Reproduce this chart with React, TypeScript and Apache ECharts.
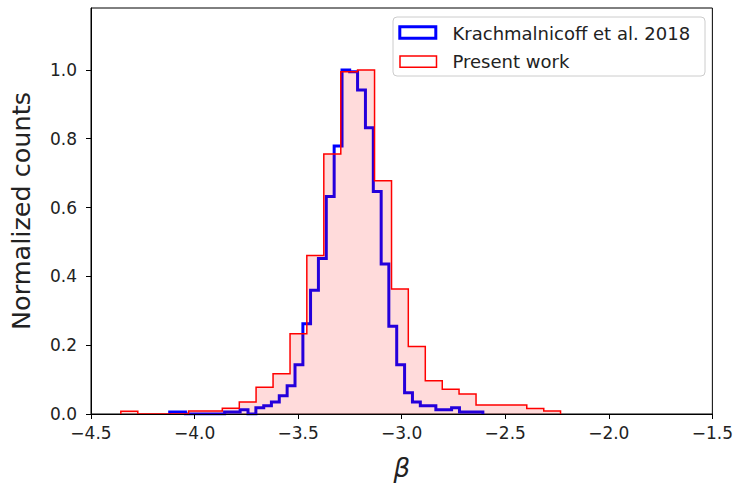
import React, { useEffect, useRef } from "react";
import * as echarts from "echarts";

// Bin edges of the two histograms (beta)
const blueEdges = [
  -4.12, -4.082, -4.044, -4.007, -3.969, -3.931, -3.893, -3.855, -3.818, -3.78,
  -3.742, -3.704, -3.666, -3.629, -3.591, -3.553, -3.515, -3.477, -3.44, -3.402,
  -3.364, -3.326, -3.288, -3.251, -3.213, -3.175, -3.137, -3.099, -3.062, -3.024,
  -2.986, -2.948, -2.91, -2.873, -2.835, -2.797, -2.759, -2.721, -2.684, -2.646,
  -2.608,
];
// Krachmalnicoff et al. 2018 normalized counts
const blueCounts = [
  0.006, 0.006, 0, 0, 0, 0, 0, 0.006, 0.006, 0.012,
  0, 0.018, 0.024, 0.035, 0.053, 0.082, 0.143, 0.262, 0.36, 0.452,
  0.632, 0.779, 1.0, 0.995, 0.942, 0.832, 0.647, 0.436, 0.255, 0.143,
  0.062, 0.035, 0.024, 0.024, 0.012, 0.012, 0.018, 0.006, 0.006, 0.006,
];

const redEdges = [
  -4.356, -4.274, -4.193, -4.111, -4.029, -3.948, -3.866, -3.784, -3.703, -3.621,
  -3.539, -3.458, -3.376, -3.294, -3.213, -3.131, -3.049, -2.968, -2.886, -2.804,
  -2.723, -2.641, -2.559, -2.478, -2.396, -2.314, -2.233,
];
// Present work normalized counts
const redCounts = [
  0.008, 0, 0, 0, 0.009, 0.009, 0.017, 0.035, 0.078, 0.117,
  0.233, 0.461, 0.756, 0.995, 1.0, 0.678, 0.363, 0.196, 0.097, 0.072,
  0.058, 0.026, 0.026, 0.026, 0.016, 0.009,
];

const yTicks = [0, 0.2, 0.4, 0.6, 0.8, 1.0];
const legendLabels = ["Krachmalnicoff et al. 2018", "Present work"];

function stepPoints(edges: number[], counts: number[]) {
  const pts: number[][] = [[edges[0], 0]];
  for (let i = 0; i < counts.length; i++) pts.push([edges[i], counts[i]]);
  const n = edges.length - 1;
  pts.push([edges[n], counts[counts.length - 1]]);
  pts.push([edges[n], 0]);
  return pts;
}

const fmt = (v: number) => v.toFixed(1).replace("-", "\u2212");
const FONT = "DejaVu Sans";

export default function App() {
  const ref = useRef<HTMLDivElement>(null);
  useEffect(() => {
    if (!ref.current) return;
    const chart = echarts.init(ref.current, undefined, { renderer: "svg" });
    chart.setOption({
      animation: false,
      backgroundColor: "#ffffff",
      grid: {
        left: 90,
        right: 22,
        top: 8,
        bottom: 73,
        show: true,
        borderColor: "#000",
        borderWidth: 1,
        backgroundColor: "transparent",
      },
      xAxis: {
        type: "value",
        min: -4.5,
        max: -1.5,
        interval: 0.5,
        z: 10,
        axisLine: { show: true, lineStyle: { color: "#000", width: 1 } },
        axisTick: { show: true, length: 5, lineStyle: { color: "#000" } },
        splitLine: { show: false },
        axisLabel: {
          formatter: fmt,
          fontFamily: FONT,
          fontSize: 17,
          color: "#222",
          margin: 10,
        },
        name: "\u03b2",
        nameLocation: "middle",
        nameGap: 41,
        nameTextStyle: {
          fontFamily: FONT,
          fontStyle: "italic",
          fontSize: 26,
          color: "#222",
        },
      },
      yAxis: {
        type: "value",
        min: 0,
        max: 1.18,
        interval: 0.2,
        z: 10,
        axisLine: { show: true, lineStyle: { color: "#000", width: 1 } },
        axisTick: {
          show: true,
          length: 5,
          lineStyle: { color: "#000" },
          customValues: yTicks,
        },
        splitLine: { show: false },
        axisLabel: {
          formatter: fmt,
          fontFamily: FONT,
          fontSize: 17,
          color: "#222",
          margin: 14,
          customValues: yTicks,
        },
        name: "Normalized counts",
        nameLocation: "middle",
        nameGap: 57,
        nameTextStyle: { fontFamily: FONT, fontSize: 25.5, color: "#222" },
      },
      series: [
        {
          type: "line",
          name: legendLabels[0],
          step: "end",
          data: stepPoints(blueEdges, blueCounts),
          showSymbol: false,
          symbol: "none",
          z: 2,
          lineStyle: { color: "#0000ff", width: 3, join: "miter", cap: "butt" },
        },
        {
          type: "line",
          name: legendLabels[1],
          step: "end",
          data: stepPoints(redEdges, redCounts),
          showSymbol: false,
          symbol: "none",
          z: 3,
          lineStyle: { color: "#ff0000", width: 1.5, join: "miter", cap: "butt" },
          areaStyle: { color: "rgba(255,0,0,0.2)" },
        },
      ],
      graphic: [
        {
          type: "group",
          z: 100,
          children: [
            {
              type: "rect",
              shape: { x: 393, y: 17, width: 312, height: 59, r: 4 },
              style: { fill: "rgba(255,255,255,0.8)", stroke: "#cccccc", lineWidth: 1 },
            },
            {
              type: "rect",
              shape: { x: 399.8, y: 26.8, width: 36, height: 11.4 },
              style: { fill: "none", stroke: "#0000ff", lineWidth: 3 },
            },
            {
              type: "rect",
              shape: { x: 400, y: 56, width: 36.5, height: 11.3 },
              style: { fill: "none", stroke: "#ff0000", lineWidth: 1.5 },
            },
            {
              type: "text",
              style: {
                text: legendLabels[0],
                x: 452.5,
                y: 33,
                fontFamily: FONT,
                fontSize: 18,
                fill: "#222",
                verticalAlign: "middle",
                textVerticalAlign: "middle",
              },
            },
            {
              type: "text",
              style: {
                text: legendLabels[1],
                x: 452.5,
                y: 61,
                fontFamily: FONT,
                fontSize: 18,
                fill: "#222",
                verticalAlign: "middle",
                textVerticalAlign: "middle",
              },
            },
          ],
        },
      ],
    });
    return () => chart.dispose();
  }, []);
  return (
    <div
      ref={ref}
      style={{ position: "fixed", left: 0, top: 0, width: 736, height: 487, background: "#fff" }}
    />
  );
}
